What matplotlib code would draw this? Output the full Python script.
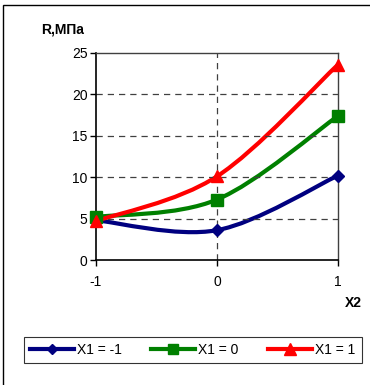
import numpy as np
import matplotlib.pyplot as plt
from matplotlib.path import Path
from matplotlib.patches import PathPatch, Rectangle
from matplotlib.lines import Line2D

# Data
x2 = [-1, 0, 1]
r_x1_m1 = [4.8, 3.6, 10.2]
r_x1_0 = [5.2, 7.3, 17.4]
r_x1_p1 = [4.7, 10.1, 23.6]
labels = ['X1 = -1', 'X1 = 0', 'X1 = 1']
colors = ['#000080', '#008000', '#FF0000']
markers = ['D', 's', '^']
msizes = [6, 8, 9]


# Excel-like smoothed line (Catmull-Rom as cubic Bezier segments)
def smooth_path(xs, ys):
    p = np.column_stack([xs, ys]).astype(float)
    n = len(p)
    verts = [p[0]]
    codes = [Path.MOVETO]
    for i in range(n - 1):
        p0 = p[max(i - 1, 0)]
        p3 = p[min(i + 2, n - 1)]
        c1 = p[i] + (p[i + 1] - p0) / 6
        c2 = p[i + 1] - (p3 - p[i]) / 6
        verts += [c1, c2, p[i + 1]]
        codes += [Path.CURVE4] * 3
    return Path(verts, codes)


fig = plt.figure(figsize=(3.7, 3.85), dpi=100)
fig.patches.append(Rectangle((3 / 370, -0.05), 1.2, (385 - 5) / 385 + 0.05,
                             transform=fig.transFigure, fill=False,
                             edgecolor='black', linewidth=1.0))

ax = fig.add_axes([96 / 370, 125 / 385, 242 / 370, 207 / 385])

for ys, c, m, ms in zip([r_x1_m1, r_x1_0, r_x1_p1], colors, markers, msizes):
    ax.add_patch(PathPatch(smooth_path(x2, ys), fill=False, edgecolor=c,
                           linewidth=3, capstyle='round', joinstyle='round'))
    ax.plot(x2, ys, linestyle='none', marker=m, color=c, markersize=ms,
            clip_on=False, zorder=5)

ax.set_xlim(-1, 1)
ax.set_ylim(0, 25)
ax.set_xticks([-1, 0, 1])
ax.set_yticks([0, 5, 10, 15, 20, 25])
ax.set_xticklabels(['-1', '0', '1'])
ax.tick_params(labelsize=10, length=4, width=1, direction='out')
ax.tick_params(axis='x', pad=7)
ax.tick_params(axis='y', pad=2)

for y in [5, 10, 15, 20]:
    ax.axhline(y, color='#404040', linestyle=(0, (5, 4)), linewidth=0.9, zorder=1)
ax.axvline(0, color='#404040', linestyle=(0, (5, 4)), linewidth=0.9, zorder=1)

ax.spines['left'].set_linewidth(1.2)
ax.spines['bottom'].set_linewidth(1.2)
ax.spines['top'].set_linewidth(1.0)
ax.spines['top'].set_color('#404040')
ax.spines['right'].set_linewidth(1.0)
ax.spines['right'].set_color('#404040')

fig.text(41 / 370, 1 - 29 / 385, 'R,МПа', fontsize=10, fontweight='bold',
         va='center', ha='left', family='Liberation Sans')
fig.text(362 / 370, 1 - 303 / 385, 'X2', fontsize=10, fontweight='bold',
         va='center', ha='right', family='Liberation Sans')

handles = [Line2D([], [], color=c, marker=m, linewidth=3, markersize=s)
           for c, m, s in zip(colors, markers, [5, 7, 8])]
leg = fig.legend(handles, labels, loc='center',
                 bbox_to_anchor=(192.5 / 370, 1 - 350 / 385), ncol=3,
                 frameon=True, fancybox=False, edgecolor='black',
                 handlelength=3.2, columnspacing=2.1,
                 handletextpad=0.2, borderpad=0.45, borderaxespad=0,
                 prop={'family': 'Liberation Sans', 'size': 10})
leg.get_frame().set_linewidth(0.8)

for t in ax.get_xticklabels() + ax.get_yticklabels():
    t.set_family('Liberation Sans')

plt.savefig('out.png', dpi=100)
